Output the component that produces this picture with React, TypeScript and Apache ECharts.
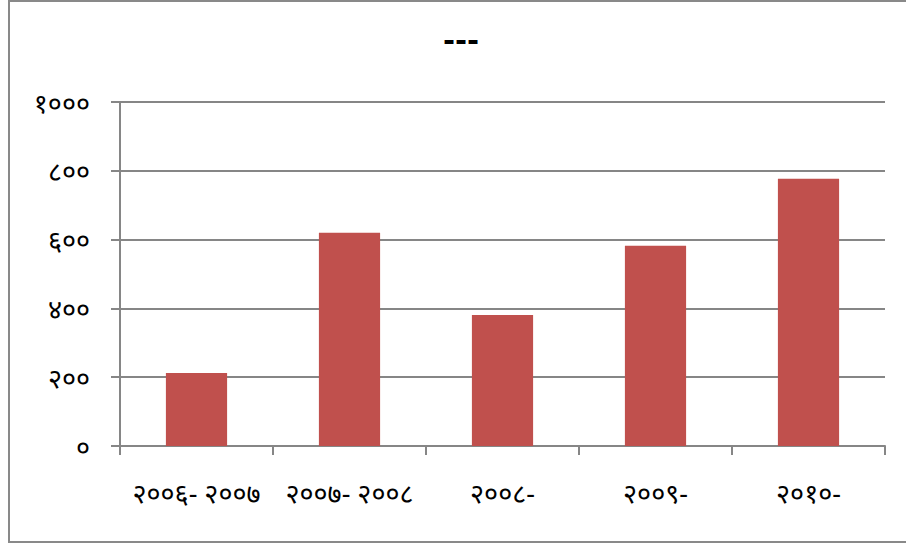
import React, { useEffect, useRef } from "react";
import * as echarts from "echarts";

const titleText = "---";
const categories = ["२००६- २००७", "२००७- २००८", "२००८-", "२००९-", "२०१०-"];
const values = [212, 620, 381, 582, 777];
const yTickLabels = ["०", "२००", "४००", "६००", "८००", "१०००"];

export default function App() {
  const ref = useRef<HTMLDivElement>(null);
  useEffect(() => {
    if (!ref.current) return;
    const chart = echarts.init(ref.current, null, { renderer: "svg" });
    const font = "'Noto Sans', 'DejaVu Sans', sans-serif";
    chart.setOption({
      animation: false,
      backgroundColor: "#ffffff",
      title: {
        text: titleText,
        left: 438,
        top: 20,
        textStyle: { fontSize: 29, fontWeight: "bold", color: "#000", fontFamily: "'DejaVu Sans', sans-serif" },
      },
      graphic: [
        {
          type: "rect",
          shape: { x: 9, y: 1, width: 905, height: 541 },
          style: { fill: "none", stroke: "#898989", lineWidth: 2 },
          silent: true,
        },
      ],
      grid: { left: 120, right: 21, top: 102, bottom: 100, containLabel: false },
      xAxis: {
        type: "category",
        data: categories,
        axisLine: { lineStyle: { color: "#868686", width: 2 } },
        axisTick: { show: true, length: 9, lineStyle: { color: "#868686", width: 2 }, alignWithLabel: false },
        axisLabel: { margin: 33, fontSize: 27, color: "#000", fontFamily: font, interval: 0 },
      },
      yAxis: {
        type: "value",
        min: 0,
        max: 1000,
        interval: 200,
        axisLine: { show: true, lineStyle: { color: "#868686", width: 2 } },
        axisTick: { show: true, length: 9, lineStyle: { color: "#868686", width: 2 } },
        splitLine: { show: true, lineStyle: { color: "#868686", width: 2 } },
        axisLabel: {
          margin: 30,
          fontSize: 27,
          color: "#000",
          fontFamily: font,
          formatter: (v: number) => yTickLabels[Math.round(v / 200)] ?? String(v),
        },
      },
      series: [
        {
          type: "bar",
          data: values,
          barWidth: "40%",
          itemStyle: { color: "#C0504D" },
        },
      ],
    });
    return () => chart.dispose();
  }, []);
  return (
    <div
      ref={ref}
      style={{ position: "fixed", left: 0, top: 0, width: 906, height: 546 }}
    />
  );
}
